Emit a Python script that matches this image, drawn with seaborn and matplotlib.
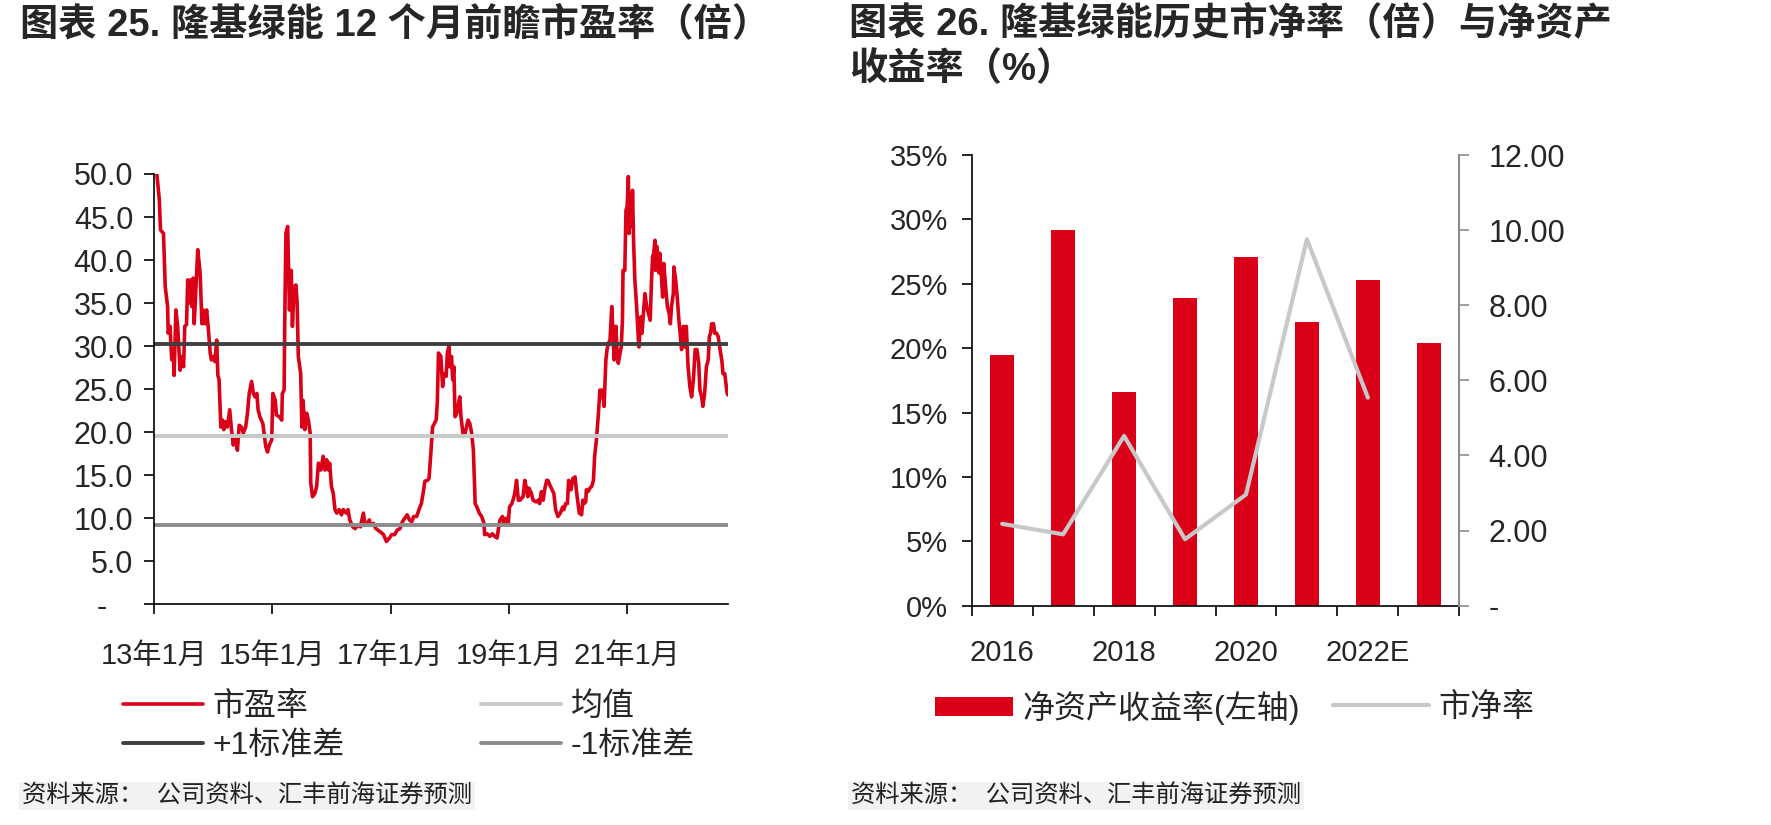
import numpy as np
import pandas as pd
import matplotlib
matplotlib.use("Agg")
import matplotlib.pyplot as plt
import seaborn as sns
from matplotlib.ticker import FuncFormatter

# ---- left chart: 12-month forward PE (x in decimal years) ----
pe_year = [
    2013.04, 2013.09, 2013.11, 2013.16, 2013.19, 2013.23, 2013.24, 2013.27, 2013.30, 2013.33,
    2013.34, 2013.37, 2013.40, 2013.44, 2013.47, 2013.50, 2013.52, 2013.55, 2013.57, 2013.60,
    2013.62, 2013.64, 2013.66, 2013.68, 2013.71, 2013.74, 2013.78, 2013.81, 2013.83, 2013.86,
    2013.89, 2013.92, 2013.95, 2013.97,
    2014.00, 2014.03, 2014.06, 2014.08, 2014.10, 2014.13, 2014.16, 2014.18, 2014.21, 2014.24,
    2014.28, 2014.31, 2014.34, 2014.38, 2014.41, 2014.44, 2014.48, 2014.51, 2014.55, 2014.58,
    2014.61, 2014.65, 2014.68, 2014.71, 2014.74, 2014.76, 2014.79, 2014.84, 2014.86, 2014.89,
    2014.92, 2014.95, 2014.99,
    2015.01, 2015.05, 2015.07, 2015.12, 2015.16, 2015.17, 2015.20, 2015.21, 2015.23, 2015.26,
    2015.29, 2015.32, 2015.34, 2015.37, 2015.40, 2015.42, 2015.44, 2015.48, 2015.50, 2015.52,
    2015.55, 2015.58, 2015.61, 2015.64, 2015.65, 2015.68, 2015.72, 2015.75, 2015.78, 2015.82,
    2015.86, 2015.89, 2015.92, 2015.95, 2015.97,
    2016.00, 2016.03, 2016.06, 2016.09, 2016.13, 2016.17, 2016.20, 2016.25, 2016.28, 2016.31,
    2016.36, 2016.40, 2016.45, 2016.49, 2016.54, 2016.57, 2016.61, 2016.64, 2016.66, 2016.71,
    2016.75, 2016.79, 2016.83, 2016.88, 2016.93, 2016.98,
    2017.02, 2017.07, 2017.11, 2017.16, 2017.20, 2017.24, 2017.28, 2017.32, 2017.36, 2017.39,
    2017.44, 2017.48, 2017.52, 2017.55, 2017.58, 2017.62, 2017.65, 2017.68, 2017.71, 2017.74,
    2017.77, 2017.79, 2017.81, 2017.85, 2017.88, 2017.90, 2017.94, 2017.96, 2017.99,
    2018.00, 2018.03, 2018.05, 2018.07, 2018.09, 2018.12, 2018.14, 2018.17, 2018.19, 2018.23,
    2018.26, 2018.31, 2018.34, 2018.37, 2018.40, 2018.43, 2018.46, 2018.50, 2018.54, 2018.58,
    2018.59, 2018.63, 2018.68, 2018.72, 2018.76, 2018.80, 2018.82, 2018.85, 2018.89, 2018.92,
    2018.95, 2018.99,
    2019.01, 2019.05, 2019.07, 2019.10, 2019.13, 2019.16, 2019.19, 2019.21, 2019.24, 2019.27,
    2019.29, 2019.32, 2019.34, 2019.38, 2019.41, 2019.46, 2019.50, 2019.52, 2019.55, 2019.58,
    2019.61, 2019.64, 2019.66, 2019.69, 2019.73, 2019.76, 2019.79, 2019.83, 2019.87, 2019.91,
    2019.93, 2019.96, 2019.99,
    2020.01, 2020.05, 2020.08, 2020.12, 2020.14, 2020.17, 2020.19, 2020.23, 2020.25, 2020.27,
    2020.30, 2020.31, 2020.34, 2020.37, 2020.40, 2020.43, 2020.45, 2020.48, 2020.51, 2020.54,
    2020.56, 2020.58, 2020.61, 2020.62, 2020.64, 2020.66, 2020.68, 2020.71, 2020.74, 2020.76,
    2020.78, 2020.81, 2020.83, 2020.85, 2020.88, 2020.90, 2020.92, 2020.93, 2020.96, 2020.98,
    2021.00, 2021.02, 2021.03, 2021.05, 2021.06, 2021.08, 2021.09, 2021.11, 2021.13, 2021.16,
    2021.19, 2021.20, 2021.23, 2021.25, 2021.27, 2021.30, 2021.33, 2021.36, 2021.39, 2021.41,
    2021.43, 2021.45, 2021.47, 2021.48, 2021.50, 2021.51, 2021.54, 2021.55, 2021.57, 2021.60,
    2021.62, 2021.65, 2021.68, 2021.71, 2021.73, 2021.75, 2021.78, 2021.79, 2021.82, 2021.85,
    2021.87, 2021.89, 2021.92, 2021.95, 2021.97,
    2022.00, 2022.03, 2022.06, 2022.09, 2022.12, 2022.15, 2022.18, 2022.21, 2022.23, 2022.26,
    2022.28, 2022.31, 2022.34, 2022.37, 2022.39, 2022.41, 2022.43, 2022.46, 2022.48, 2022.51,
    2022.54, 2022.57, 2022.60, 2022.62, 2022.65, 2022.67, 2022.69, 2022.71,
]
pe_value = [
    50.6, 47.0, 43.5, 43.1, 36.9, 34.6, 31.5, 32.3, 28.4, 29.2,
    26.6, 34.2, 32.3, 27.2, 28.8, 27.6, 32.3, 32.5, 37.7, 35.0,
    37.7, 34.6, 37.9, 32.6, 36.9, 41.2, 38.5, 32.6, 34.2, 32.6,
    34.2, 31.9, 29.2, 28.4,
    28.8, 28.2, 30.7, 26.6, 26.1, 20.6, 21.4, 20.3, 21.2, 20.6,
    22.6, 20.3, 18.5, 19.5, 17.9, 20.8, 20.6, 19.9, 20.6, 22.2,
    24.5, 25.9, 24.5, 24.1, 24.5, 22.6, 21.8, 21.0, 19.9, 18.3,
    17.7, 18.5, 19.1,
    24.5, 23.7, 22.0, 21.8, 21.4, 24.5, 24.9, 32.3, 43.1, 43.9,
    34.2, 38.8, 32.3, 36.9, 37.1, 35.0, 28.8, 26.8, 20.6, 23.7,
    20.3, 22.2, 21.4, 19.9, 14.1, 12.5, 12.9, 13.7, 16.4, 15.6,
    17.2, 15.6, 16.8, 15.6, 16.4,
    13.7, 12.9, 11.0, 10.6, 11.0, 10.4, 11.0, 10.6, 11.0, 9.8,
    9.0, 8.8, 9.2, 9.0, 10.6, 9.2, 9.4, 9.8, 9.2, 9.4,
    8.8, 8.6, 8.4, 8.1, 7.3, 7.7,
    8.1, 8.1, 8.6, 8.8, 9.6, 10.0, 10.4, 9.8, 9.6, 10.2,
    10.2, 11.0, 11.7, 12.9, 14.3, 14.4, 14.6, 17.5, 20.6, 21.0,
    21.4, 23.4, 29.2, 28.8, 25.3, 26.8, 26.5, 29.2, 30.1,
    27.6, 28.8, 26.1, 27.6, 21.8, 22.2, 23.0, 24.1, 21.8, 19.5,
    19.9, 21.4, 21.0, 19.9, 17.9, 11.7, 11.3, 10.6, 10.2, 9.4,
    8.1, 8.2, 7.9, 8.2, 7.9, 7.7, 8.6, 9.8, 10.2, 9.4,
    10.0, 9.4,
    11.3, 11.7, 12.1, 12.9, 14.4, 12.1, 12.1, 12.3, 12.5, 14.4,
    13.7, 12.5, 13.5, 12.9, 12.1, 11.9, 12.1, 11.7, 13.1, 12.1,
    13.5, 14.4, 14.4, 13.9, 13.3, 12.9, 11.0, 10.2, 10.6, 11.3,
    11.0, 11.7, 11.7,
    14.4, 13.3, 14.6, 14.8, 13.3, 11.7, 10.6, 10.4, 12.1, 11.7,
    11.9, 13.3, 13.1, 13.5, 13.7, 14.4, 17.2, 19.1, 21.8, 24.9,
    24.5, 24.9, 23.0, 24.9, 28.4, 29.6, 30.3, 30.7, 34.6, 31.5,
    28.4, 32.3, 29.2, 28.0, 29.2, 29.9, 33.0, 38.8, 38.8, 45.8,
    46.2, 49.7, 43.1, 45.8, 47.8, 43.9, 48.1, 41.9, 37.7, 34.6,
    30.7, 29.9, 33.4, 31.5, 33.4, 36.1, 34.6, 33.8, 33.0, 37.3,
    40.4, 40.8, 42.3, 38.8, 41.6, 40.0, 38.5, 40.8, 39.2, 35.7,
    39.6, 36.9, 34.6, 33.8, 32.6, 34.6, 36.1, 39.2, 37.7, 35.4,
    33.4, 31.9, 29.6, 32.3, 29.9,
    32.3, 27.6, 25.3, 24.1, 26.1, 29.6, 29.6, 28.0, 24.9, 24.1,
    23.0, 24.5, 27.6, 28.4, 31.1, 31.5, 32.6, 32.6, 31.5, 31.5,
    31.1, 29.6, 28.4, 26.8, 26.8, 25.7, 24.5, 24.3,
]
pe_mean = 19.6
pe_plus_std = 30.3
pe_minus_std = 9.2
pe_tick_years = [2013, 2015, 2017, 2019, 2021]
pe_tick_labels = ["13年1月", "15年1月", "17年1月", "19年1月", "21年1月"]

# ---- right chart: ROE (bars, left axis) and PB (line, right axis) ----
years = ["2016", "2017", "2018", "2019", "2020", "2021", "2022E", "2023E"]
roe = [19.5, 29.2, 16.6, 23.9, 27.1, 22.0, 25.3, 20.4]
pb = [2.18, 1.90, 4.52, 1.77, 2.96, 9.76, 5.54]

RED = "#da0018"
LIGHT = "#c8c8c8"

sns.set_style("white")
plt.rcParams["font.family"] = ["Liberation Sans", "Noto Sans CJK SC"]
plt.rcParams["axes.unicode_minus"] = False

W, H = 1771, 825
fig = plt.figure(figsize=(W / 100, H / 100), dpi=100)


def px(x, y):
    return x / W, 1 - y / H


# ---------------- left chart ----------------
ax1 = fig.add_axes([154 / W, 1 - 604.3 / H, 574.3 / W, 430.3 / H])
pe = pd.DataFrame({"year": pe_year, "pe": pe_value})
sns.lineplot(data=pe, x="year", y="pe", ax=ax1, color=RED, lw=2.6,
             estimator=None, legend=False)
ax1.axhline(pe_mean, color=LIGHT, lw=2.8)
ax1.axhline(pe_plus_std, color="#404040", lw=2.8)
ax1.axhline(pe_minus_std, color="#8c8c8c", lw=2.8)
ax1.set_xlim(2013, pe_year[-1])
ax1.set_ylim(0, 50)
ax1.set_yticks(np.arange(0, 55, 5))
ax1.yaxis.set_major_formatter(FuncFormatter(lambda v, p: "-   " if v == 0 else f"{v:.1f}"))
ax1.set_xticks(pe_tick_years)
ax1.set_xticklabels(pe_tick_labels)
ax1.set_xlabel("")
ax1.set_ylabel("")
sns.despine(ax=ax1)
for s in ["left", "bottom"]:
    ax1.spines[s].set_color("black")
    ax1.spines[s].set_linewidth(1.2)
ax1.tick_params(axis="y", direction="out", length=7, width=1.2, color="black",
                labelsize=22, pad=8, left=True)
ax1.tick_params(axis="x", direction="out", length=7, width=1.2, color="black",
                labelsize=21, pad=20, bottom=True)

# ---------------- right chart ----------------
ax2 = fig.add_axes([971.7 / W, 1 - 605.7 / H, 487.6 / W, 450.7 / H])
roe_df = pd.DataFrame({"year": years, "roe": roe})
sns.barplot(data=roe_df, x="year", y="roe", ax=ax2, color=RED, width=0.4,
            saturation=1, edgecolor="none")
ax2.set_ylim(0, 35)
ax2.set_yticks(np.arange(0, 40, 5))
ax2.yaxis.set_major_formatter(FuncFormatter(lambda v, p: f"{v:.0f}%"))
ax2.set_xticks(np.arange(0, len(years), 2))
ax2.set_xticklabels(years[::2])
ax2.set_xticks(np.arange(len(years) + 1) - 0.5, minor=True)
ax2.set_xlim(-0.5, len(years) - 0.5)
ax2.set_xlabel("")
ax2.set_ylabel("")
ax2.tick_params(axis="y", direction="out", length=7, width=1.2, color="black",
                labelsize=21, pad=10, left=True)
ax2.tick_params(axis="x", which="major", length=0, labelsize=21, pad=24)
ax2.tick_params(axis="x", which="minor", direction="out", length=7, width=1.2,
                color="black", bottom=True)

ax3 = ax2.twinx()
sns.lineplot(x=np.arange(len(pb)), y=pb, ax=ax3, color=LIGHT, lw=3, legend=False)
ax3.set_ylim(0, 12)
ax3.set_xlim(-0.5, len(years) - 0.5)
ax3.set_yticks(np.arange(0, 13, 2))
ax3.yaxis.set_major_formatter(FuncFormatter(lambda v, p: "-" if v == 0 else f"{v:.2f}"))
ax3.tick_params(axis="y", direction="out", length=7, width=1.2, color="#8c8c8c",
                labelsize=22, pad=14, right=True)

for s in ["top", "right"]:
    ax2.spines[s].set_visible(False)
for s in ["top", "left", "bottom"]:
    ax3.spines[s].set_visible(False)
for s in ["left", "bottom"]:
    ax2.spines[s].set_color("black")
    ax2.spines[s].set_linewidth(1.2)
ax3.spines["right"].set_color("#8c8c8c")
ax3.spines["right"].set_linewidth(1.5)

# ---------------- titles ----------------
title_kw = dict(fontsize=27.5, fontweight="bold", va="center", ha="left")
fig.text(*px(20, 25), "图表 25. 隆基绿能 12 个月前瞻市盈率（倍）", **title_kw)
fig.text(*px(849, 25), "图表 26. 隆基绿能历史市净率（倍）与净资产", **title_kw)
fig.text(*px(849, 70), "收益率（%）", **title_kw)

# ---------------- legends ----------------
def legend_at(handle, label, x, y, length, height=0.7):
    leg = fig.legend([handle], [label], loc="center left", bbox_to_anchor=px(x, y),
                     frameon=False, borderpad=0, borderaxespad=0, fontsize=23,
                     handlelength=length, handleheight=height, handletextpad=0.3)
    return leg


pe_line = ax1.lines[0]
mean_line, plus_line, minus_line = ax1.lines[1], ax1.lines[2], ax1.lines[3]
legend_at(pe_line, "市盈率", 123, 707, 2.5)
legend_at(mean_line, "均值", 481, 707, 2.5)
legend_at(plus_line, "+1标准差", 123, 746, 2.5)
legend_at(minus_line, "-1标准差", 481, 746, 2.5)

legend_at(ax2.patches[0], "净资产收益率(左轴)", 935, 708, 2.45, 0.55)
legend_at(ax3.lines[0], "市净率", 1333, 708, 3.0)

# ---------------- sources ----------------
src_kw = dict(fontsize=17.5, va="center", ha="left", color="#222222",
              bbox=dict(facecolor="#f2f2f2", edgecolor="none", pad=2))
fig.text(*px(22, 796), "资料来源：  公司资料、汇丰前海证券预测", **src_kw)
fig.text(*px(851, 796), "资料来源：  公司资料、汇丰前海证券预测", **src_kw)

fig.savefig("out.png", dpi=100, facecolor="white")
